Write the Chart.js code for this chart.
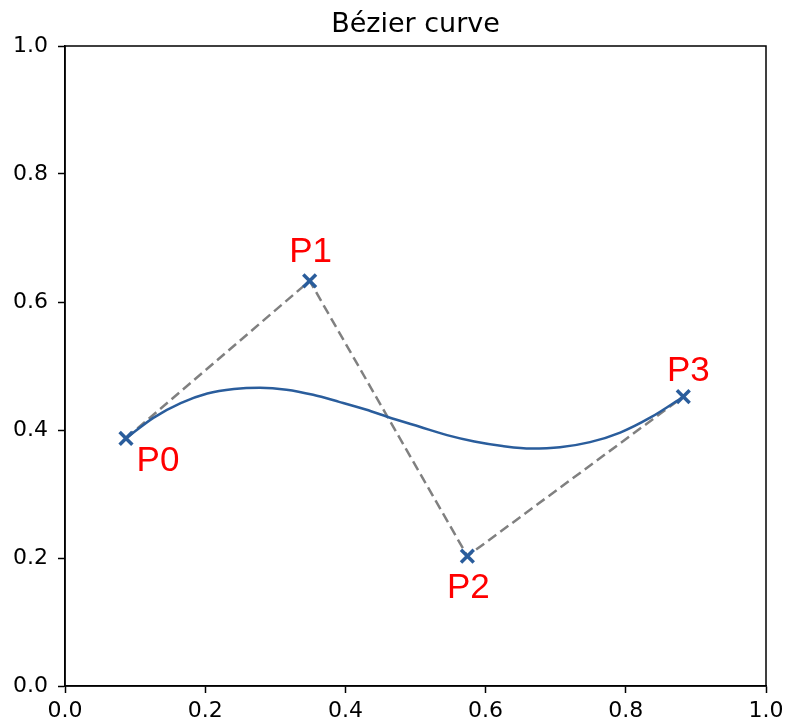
<!DOCTYPE html>
<html>
<head>
<meta charset="utf-8">
<script src="https://cdn.jsdelivr.net/npm/chart.js@4"></script>
<style>
    html, body { margin: 0; padding: 0; background: #fff; }
    #wrap { width: 786px; height: 726px; }
</style>
</head>
<body>
<div id="wrap"><canvas id="canvas-bezier" width="786" height="726"></canvas></div>
<script>
// control points
const ctrlNames = ['P0', 'P1', 'P2', 'P3'];
const ctrlX = [0.087, 0.349, 0.574, 0.882];
const ctrlY = [0.387, 0.633, 0.203, 0.452];

// points along the blue curve
const curveX = [0.087, 0.126, 0.165, 0.203, 0.241, 0.278, 0.316, 0.354, 0.391, 0.429, 0.467,
                0.506, 0.545, 0.584, 0.624, 0.665, 0.706, 0.749, 0.792, 0.836, 0.882];
const curveY = [0.387, 0.419, 0.442, 0.457, 0.464, 0.466, 0.463, 0.455, 0.444, 0.432, 0.418,
                0.405, 0.392, 0.382, 0.375, 0.371, 0.373, 0.381, 0.396, 0.420, 0.452];

const tickValues = [0.0, 0.2, 0.4, 0.6, 0.8, 1.0];
const chartTitle = 'Bézier curve';

const blue = '#2a5d9c';

function toPoints(xs, ys) {
    return xs.map((x, i) => ({x: x, y: ys[i]}));
}

// frame + title + point labels
const extras = {
    id: 'extras',
    afterDraw(chart) {
        const ctx = chart.ctx;
        const area = chart.chartArea;
        const sx = chart.scales.x, sy = chart.scales.y;
        ctx.save();
        ctx.strokeStyle = '#000';
        ctx.lineWidth = 1.5;
        ctx.strokeRect(area.left, area.top, area.right - area.left, area.bottom - area.top);

        ctx.fillStyle = '#000';
        ctx.font = '27px "DejaVu Sans"';
        ctx.textAlign = 'center';
        ctx.textBaseline = 'alphabetic';
        ctx.fillText(chartTitle, (area.left + area.right) / 2, 32);

        // label offsets in pixels
        const offs = [[32, 23], [1, -29], [1, 32], [5, -25]];
        ctx.fillStyle = '#ff0000';
        ctx.font = '35px "Liberation Sans"';
        ctx.textBaseline = 'middle';
        ctrlNames.forEach((name, i) => {
            const px = sx.getPixelForValue(ctrlX[i]);
            const py = sy.getPixelForValue(ctrlY[i]);
            ctx.fillText(name, px + offs[i][0], py + offs[i][1]);
        });
        ctx.restore();
    }
};

function axisOpts(size, pad) {
    return {
        type: 'linear',
        min: 0,
        max: 1,
        afterBuildTicks: axis => { axis.ticks = tickValues.map(v => ({value: v})); },
        afterFit: axis => {
            if (axis.isHorizontal()) {
                axis.height = size;
                axis.paddingLeft = 0;
                axis.paddingRight = 0;
            } else {
                axis.width = size;
                axis.paddingTop = 0;
                axis.paddingBottom = 0;
            }
        },
        grid: {
            display: true,
            drawOnChartArea: false,
            drawTicks: true,
            tickLength: 7,
            tickColor: '#000',
            tickWidth: 1.5,
        },
        border: { display: true, color: '#000', width: 1.5 },
        ticks: {
            color: '#000',
            font: { family: 'DejaVu Sans', size: 22 },
            padding: pad,
            maxRotation: 0,
            callback: v => v.toFixed(1),
        },
    };
}

const ctx = document.querySelector('#canvas-bezier').getContext('2d');
const bezierChart = new Chart(ctx, {
    type: 'scatter',
    data: {
        datasets: [{
            label: 'points',
            data: toPoints(ctrlX, ctrlY),
            showLine: false,
            pointStyle: 'crossRot',
            pointRadius: 9,
            pointBorderWidth: 3.5,
            borderColor: blue,
            backgroundColor: blue,
        },
        {
            label: 'curve',
            data: toPoints(curveX, curveY),
            showLine: true,
            borderColor: blue,
            borderWidth: 2.5,
            pointRadius: 0,
            cubicInterpolationMode: 'monotone',
        },
        {
            label: 'polygon',
            data: toPoints(ctrlX, ctrlY),
            showLine: true,
            borderColor: '#808080',
            borderWidth: 2.5,
            borderDash: [10, 5],
            pointRadius: 0,
        }],
    },
    options: {
        responsive: false,
        animation: false,
        layout: { padding: { top: 46, right: 20, left: 0, bottom: 0 } },
        plugins: {
            legend: { display: false },
            tooltip: { enabled: false },
            title: { display: false },
        },
        scales: {
            x: axisOpts(40, 5),
            y: axisOpts(65, 10),
        },
    },
    plugins: [extras],
});
</script>
</body>
</html>
